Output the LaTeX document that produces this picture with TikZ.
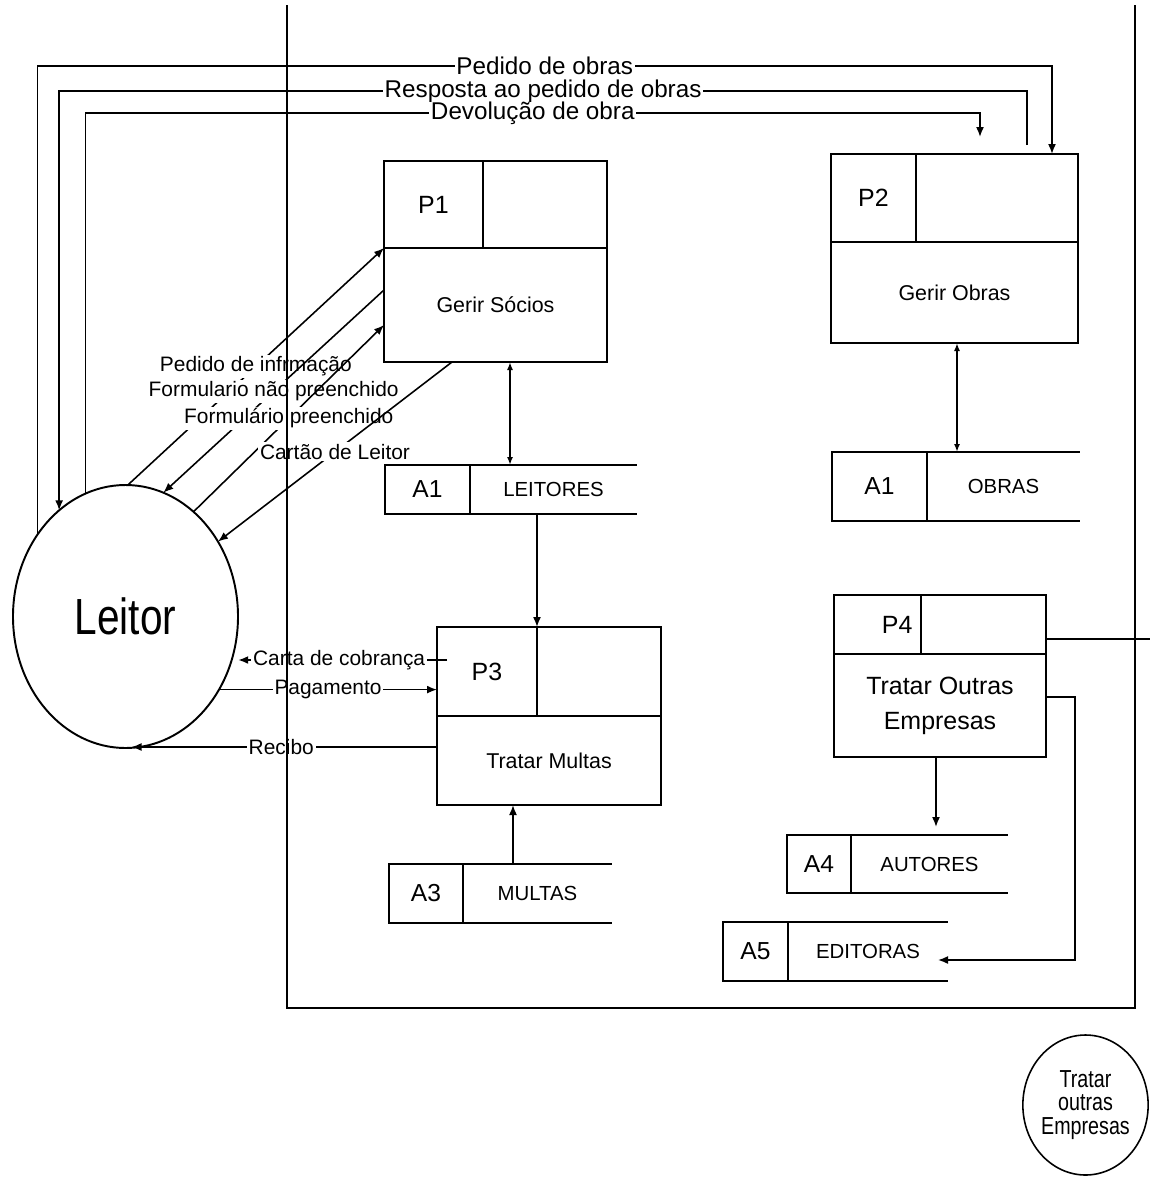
\documentclass[tikz,border=0pt]{standalone}
\usepackage{fontspec}
\setmainfont{Liberation Sans}
\newfontfamily\narrowsans{Liberation Sans}[FakeStretch=0.8]
\usetikzlibrary{arrows.meta,positioning,shapes.geometric}

\begin{document}
\begin{tikzpicture}[
  line width=0.9pt,
  cell/.style={draw,line width=1.1pt,inner sep=2pt,outer sep=0pt,anchor=north west},
  pid/.style={cell,font=\fontsize{14.2}{17}\selectfont},
  pbody/.style={cell,align=center,font=\fontsize{12.2}{14}\selectfont},
  sid/.style={cell,font=\fontsize{14}{17}\selectfont},
  sname/.style={inner sep=2pt,outer sep=0pt,font=\fontsize{11.6}{14}\selectfont},
  lbl/.style={fill=white,inner sep=1pt,font=\fontsize{11.9}{14}\selectfont},
  toplbl/.style={lbl,inner ysep=0pt,font=\fontsize{13.8}{16}\selectfont},
  arr/.style={-{Latex[length=2mm,width=1.6mm]}},
  dbl/.style={{Latex[length=1.6mm,width=1.2mm]}-{Latex[length=1.6mm,width=1.2mm]}},
]
\useasboundingbox (0,0) rectangle (23,-23.54);

\node[ellipse,draw,line width=1.1pt,minimum width=4.5cm,minimum height=5.26cm,inner sep=0pt,outer sep=0pt,font=\narrowsans\fontsize{28.9}{34}\selectfont] (leitor) at (2.51,-12.33) {Leitor};

\node[pid,minimum width=1.98cm,minimum height=1.74cm] (p1id) at (7.68,-3.22) {P1};
\node[cell,right=0pt of p1id,minimum width=2.48cm,minimum height=1.74cm] (p1r) {};
\node[pbody,minimum width=4.46cm,minimum height=2.28cm] (p1) at (p1id.south west) {Gerir Sócios};

\node[pid,minimum width=1.70cm,minimum height=1.76cm] (p2id) at (16.62,-3.08) {P2};
\node[cell,right=0pt of p2id,minimum width=3.24cm,minimum height=1.76cm] (p2r) {};
\node[pbody,minimum width=4.94cm,minimum height=2.02cm] (p2) at (p2id.south west) {Gerir Obras};

\node[pid,minimum width=2.00cm,minimum height=1.78cm] (p3id) at (8.74,-12.54) {P3};
\node[cell,right=0pt of p3id,minimum width=2.48cm,minimum height=1.78cm] (p3r) {};
\node[pbody,minimum width=4.48cm,minimum height=1.78cm] (p3) at (p3id.south west) {Tratar Multas};

\node[pid,minimum width=1.74cm,minimum height=1.18cm,text width=1.4cm,inner xsep=0.17cm,align=right] (p4id) at (16.68,-11.90) {P4};
\node[cell,right=0pt of p4id,minimum width=2.50cm,minimum height=1.18cm] (p4r) {};
\node[pbody,minimum width=4.24cm,minimum height=2.06cm,font=\fontsize{14.2}{19.8}\selectfont] (p4) at (p4id.south west) {Tratar Outras\\Empresas};

\node[sid,minimum width=1.70cm,minimum height=0.98cm] (a1l) at (7.70,-9.30) {A1};
\node[sname,right=0pt of a1l,minimum width=3.34cm,minimum height=0.98cm] (leitores) {LEITORES};
\draw[line width=1.1pt] (a1l.north east) -- (leitores.north east) (a1l.south east) -- (leitores.south east);

\node[sid,minimum width=1.90cm,minimum height=1.38cm] (a1o) at (16.64,-9.04) {A1};
\node[sname,right=0pt of a1o,minimum width=3.06cm,minimum height=1.38cm] (obras) {OBRAS};
\draw[line width=1.1pt] (a1o.north east) -- (obras.north east) (a1o.south east) -- (obras.south east);

\node[sid,minimum width=1.48cm,minimum height=1.18cm] (a3) at (7.78,-17.28) {A3};
\node[sname,right=0pt of a3,minimum width=2.98cm,minimum height=1.18cm] (multas) {MULTAS};
\draw[line width=1.1pt] (a3.north east) -- (multas.north east) (a3.south east) -- (multas.south east);

\node[sid,minimum width=1.28cm,minimum height=1.16cm] (a4) at (15.74,-16.70) {A4};
\node[sname,right=0pt of a4,minimum width=3.14cm,minimum height=1.16cm] (autores) {AUTORES};
\draw[line width=1.1pt] (a4.north east) -- (autores.north east) (a4.south east) -- (autores.south east);

\node[sid,minimum width=1.30cm,minimum height=1.18cm] (a5) at (14.46,-18.44) {A5};
\node[sname,right=0pt of a5,minimum width=3.20cm,minimum height=1.18cm] (editoras) {EDITORAS};
\draw[line width=1.1pt] (a5.north east) -- (editoras.north east) (a5.south east) -- (editoras.south east);

\node[ellipse,draw,minimum width=2.5cm,minimum height=2.8cm,inner sep=0pt,align=center,font=\narrowsans\fontsize{14}{13.6}\selectfont] (outras) at (21.71,-22.1) {Tratar\\outras\\Empresas};
\coordinate (borda) at (23,-12.78);

\draw[arr] (leitor.137) |- node[toplbl,pos=0.75]{Pedido de obras} ([xshift=1.1cm,yshift=1.76cm]p2r.north) -- ([xshift=1.1cm]p2r.north);
\draw[arr,shorten <=0.18cm] ([xshift=0.6cm]p2r.north) -- ([xshift=0.6cm,yshift=1.26cm]p2r.north) -| node[toplbl,pos=0.25]{Resposta ao pedido de obras} (leitor.122);
\draw[arr,shorten >=0.34cm] (leitor.108) |- node[toplbl,pos=0.75]{Devolução de obra} ([xshift=-0.34cm,yshift=0.82cm]p2r.north) -- ([xshift=-0.34cm]p2r.north);

\draw[arr] (leitor.89) -- node[lbl]{Pedido de infrmação} (p1id.south west);
\draw[arr] ([yshift=0.3cm]p1.west) -- node[lbl]{Formulario não preenchido} (leitor.73);
\draw[arr] (leitor.57) -- node[lbl]{Formulário preenchido} ([yshift=-0.4cm]p1.west);
\draw[arr] ([xshift=-0.87cm]p1.south) -- node[lbl]{Cartão de Leitor} (leitor.39);

\draw[arr,shorten >=0.14cm] ([xshift=0.2cm,yshift=0.23cm]p3id.west) coordinate (cc) -- node[lbl]{Carta de cobrança} (cc -| leitor.337);
\draw[arr] (leitor.322) -- node[lbl]{Pagamento} (leitor.322 -| p3id.west);
\draw[arr,shorten >=0.12cm] ([yshift=0.27cm]p3.west) coordinate (rc) -- node[lbl]{Recibo} (rc -| leitor.south);

\draw[dbl] ([xshift=0.29cm]p1.south) -- ([xshift=-0.87cm]leitores.north);
\draw[arr] (p3id.north east |- leitores.south) -- (p3id.north east);
\draw[arr] ([xshift=-0.49cm]multas.north) -- ([xshift=-0.72cm]p3.south);
\draw[dbl] ([xshift=0.05cm]p2.south) -- ([xshift=-0.93cm]obras.north);
\draw[arr,shorten >=0.16cm] ([xshift=-0.08cm]p4.south) -- ([xshift=0.13cm]autores.north);
\draw[arr] ([yshift=0.17cm]p4.east) -- ++(0.58,0) |- ([xshift=1.4cm,yshift=-0.17cm]editoras.center);
\draw ([yshift=-0.29cm]p4r.east) -- (borda);

\draw[line width=1.1pt] (5.74,-0.1) -- (5.74,-20.16) -- (22.7,-20.16) -- (22.7,-0.1);
\end{tikzpicture}
\end{document}
